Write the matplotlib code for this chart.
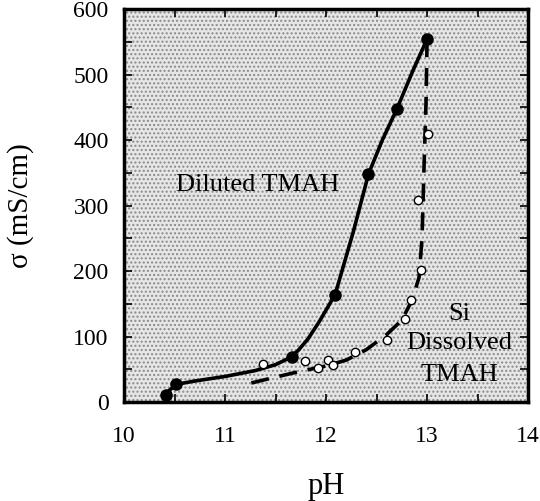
import numpy as np
import matplotlib
matplotlib.use("Agg")
import matplotlib.pyplot as plt
from matplotlib.patches import Rectangle

plt.rcParams['font.family'] = ['Liberation Serif', 'DejaVu Serif']

# Diluted TMAH, measured points (filled)
dil_ph = [10.42, 10.51, 11.66, 12.09, 12.42, 12.70, 13.00]
dil_sig = [10, 27, 69, 164, 348, 447, 554]

# Diluted TMAH, hand drawn curve
dil_curve_ph = [10.40, 10.45, 10.52, 10.7, 11.0, 11.3, 11.5, 11.62, 11.72, 11.82, 11.93,
                12.09, 12.27, 12.42, 12.56, 12.70, 12.86, 13.0]
dil_curve_sig = [5, 18, 27, 32, 39, 48, 57, 66, 78, 96, 122, 164, 260, 348, 401, 447, 506, 554]

# Si dissolved TMAH, measured points (open)
si_ph = [11.38, 11.79, 11.92, 12.02, 12.07, 12.29, 12.60, 12.78, 12.84, 12.94, 12.91, 13.01]
si_sig = [58, 62, 52, 64, 57, 77, 94, 126, 155, 202, 309, 409]

# Si dissolved TMAH, dashed curve
si_curve_ph = [11.26, 11.5, 11.75, 12.0, 12.2, 12.4, 12.6, 12.75, 12.85, 12.92,
               12.95, 12.97, 12.99, 13.0]
si_curve_sig = [29, 38, 47, 55, 64, 80, 103, 125, 155, 190, 250, 360, 460, 554]

fig = plt.figure(figsize=(5.40, 5.01), dpi=100)
ax = fig.add_axes([0.2296, 0.1976, 0.7484, 0.7844])

# stippled gray background
ax.set_facecolor('#e6e6e6')
ax.add_patch(Rectangle((0, 0), 1, 1, transform=ax.transAxes, facecolor='none',
                       edgecolor='#8a8a8a', hatch='....', linewidth=0, zorder=0))

ax.plot(dil_curve_ph, dil_curve_sig, color='black', lw=2.6, zorder=3)
ax.plot(dil_ph, dil_sig, 'o', color='black', ms=8, zorder=4)

ax.plot(si_curve_ph, si_curve_sig, color='black', lw=2.6, dashes=(5, 3), zorder=3)
ax.plot(si_ph, si_sig, 'o', mfc='white', mec='black', mew=1.0, ms=6, zorder=4)

ax.text(10.51, 332, 'Diluted TMAH', fontsize=19, va='center', ha='left')
ax.text(13.32, 135, 'Si', fontsize=19, va='center', ha='center')
ax.text(13.32, 90, 'Dissolved', fontsize=19, va='center', ha='center')
ax.text(13.32, 41, 'TMAH', fontsize=19, va='center', ha='center')

ax.set_xlim(10, 14)
ax.set_ylim(0, 600)
ax.set_xticks([10, 11, 12, 13, 14])
ax.set_xticks(np.arange(10, 14.01, 0.5), minor=True)
ax.set_yticks(np.arange(0, 601, 100))
ax.set_yticks(np.arange(0, 601, 50), minor=True)
ax.tick_params(which='both', direction='in', top=True, right=True,
               length=6, width=1.2)
ax.tick_params(axis='x', which='major', pad=17, labelsize=17)
ax.tick_params(axis='y', which='major', pad=11, labelsize=17)
for s in ax.spines.values():
    s.set_linewidth(2.5)

ax.set_xlabel('pH', fontsize=22, labelpad=18)
ax.set_ylabel('σ (mS/cm)', fontsize=21, labelpad=28)

fig.savefig('out.png', dpi=100)
